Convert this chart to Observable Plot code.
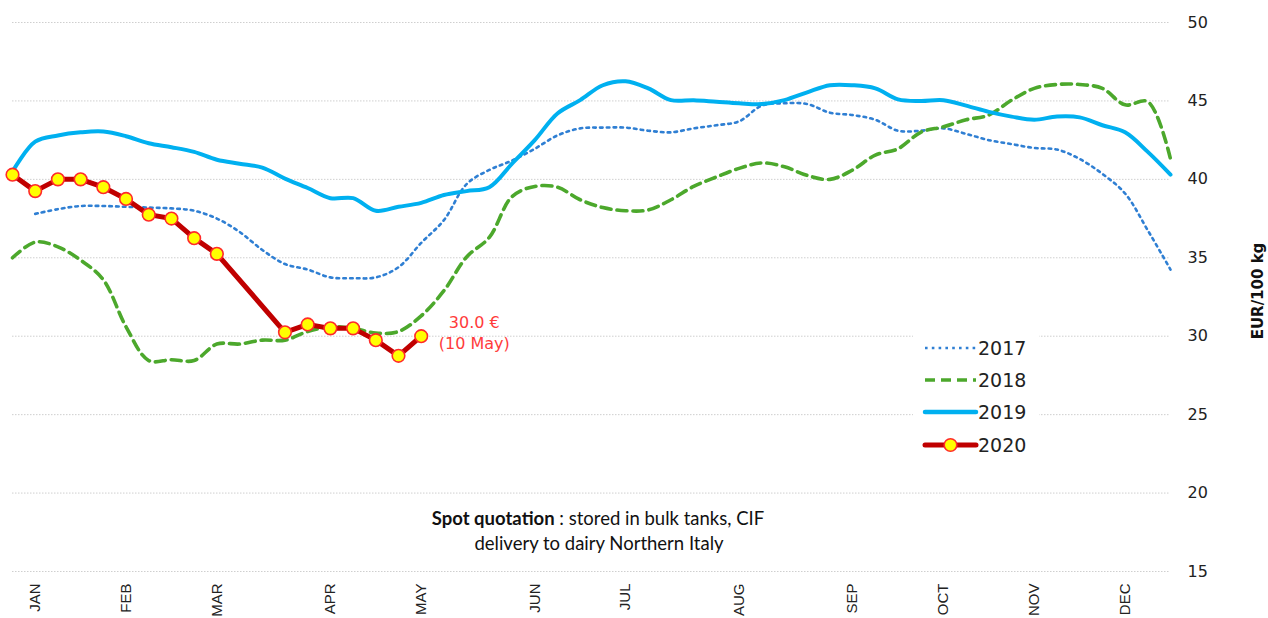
<!DOCTYPE html>
<html><head><meta charset="utf-8">
<script src="https://cdn.jsdelivr.net/npm/d3@7"></script>
<script src="https://cdn.jsdelivr.net/npm/@observablehq/plot@0.6"></script>
<style>
body{margin:0;background:#fff;}
#wrap{position:relative;width:1268px;height:618px;overflow:hidden;}
#overlay{position:absolute;left:0;top:0;pointer-events:none;}
</style></head><body>
<div id="wrap"></div>
<script>
// ---- data (weekly, week index 0..51) ----
const years = ["2017", "2018", "2019", "2020"];
const colors = ["#2f7fd3", "#4ca82c", "#00b0f0", "#c00000"];
const monthNames = ["JAN","FEB","MAR","APR","MAY","JUN","JUL","AUG","SEP","OCT","NOV","DEC"];
const monthWeeks = [1, 5, 9, 14, 18, 23, 27, 32, 37, 41, 45, 49];
const yTicks = [15, 20, 25, 30, 35, 40, 45, 50];

const v2017 = [null, 37.8, 38.1, 38.3, 38.3, 38.25, 38.2, 38.15, 38.0, 37.5, 36.65,
  35.5, 34.6, 34.25, 33.75, 33.7, 33.75, 34.4, 35.95, 37.4, 39.7,
  40.6, 41.2, 41.95, 42.8, 43.25, 43.3, 43.3, 43.1, 43.0, 43.25,
  43.45, 43.7, 44.7, 44.85, 44.8, 44.25, 44.1, 43.8, 43.1, 43.1,
  43.25, 42.9, 42.5, 42.25, 42.0, 41.9, 41.3, 40.35, 39.1, 36.75, 34.25];
const v2018 = [35.0, 36.0, 35.7, 34.85, 33.6, 30.6, 28.45, 28.5, 28.45, 29.5, 29.5,
  29.75, 29.75, 30.3, 30.6, 30.5, 30.2, 30.3, 31.3, 32.9, 35.05,
  36.3, 38.9, 39.55, 39.5, 38.7, 38.2, 38.0, 38.05, 38.7, 39.55,
  40.15, 40.7, 41.05, 40.8, 40.25, 40.0, 40.6, 41.55, 41.95, 43.0,
  43.35, 43.8, 44.1, 45.05, 45.8, 46.05, 46.05, 45.8, 44.75, 44.95, 41.3];
const v2019 = [40.5, 42.4, 42.8, 43.0, 43.05, 42.75, 42.3, 42.05, 41.75, 41.25, 41.0,
  40.75, 40.05, 39.45, 38.8, 38.8, 38.0, 38.25, 38.5, 39.0, 39.25,
  39.5, 41.0, 42.5, 44.2, 45.05, 46.0, 46.25, 45.8, 45.05, 45.05,
  44.95, 44.85, 44.8, 45.05, 45.55, 46.0, 46.0, 45.8, 45.1, 45.0,
  45.05, 44.7, 44.3, 44.0, 43.8, 44.0, 43.95, 43.45, 43.0, 41.75, 40.3];
const weeks2020 = [0, 1, 2, 3, 4, 5, 6, 7, 8, 9, 12, 13, 14, 15, 16, 17, 18];
const v2020 = [40.3, 39.25, 40.0, 40.0, 39.5, 38.75, 37.75, 37.5, 36.25, 35.25,
  30.25, 30.75, 30.5, 30.5, 29.75, 28.75, 30.0];
const noteText = "30.0 €\n(10 May)";
const captionBold = "Spot quotation";
const captionRest1 = " : stored in bulk tanks, CIF";
const captionLine2 = "delivery to dairy Northern Italy";
const yLabel = "EUR/100 kg";

// ---- tables ----
const toRows = (vals, year, wks) => vals.map((v, i) => ({year, week: wks ? wks[i] : i, value: v})).filter(d => d.value != null);
const d2017 = toRows(v2017, "2017");
const d2018 = toRows(v2018, "2018");
const d2019 = toRows(v2019, "2019");
const d2020 = toRows(v2020, "2020", weeks2020);
const last2020 = [d2020[d2020.length - 1]];
const nameByWeek = new Map(monthWeeks.map((w, i) => [w, monthNames[i]]));

const W = 1268, H = 618;
const chart = Plot.plot({
  width: W, height: H,
  marginLeft: 12, marginRight: 98, marginTop: 22, marginBottom: 47,
  x: {domain: [0, 51]},
  y: {domain: [15, 50]},
  style: {background: "#fff"},
  marks: [
    Plot.gridY(yTicks, {stroke: "#cfcfcf", strokeOpacity: 1, strokeDasharray: "1.5,1.5", strokeWidth: 1}),
    Plot.line(d2017, {x: "week", y: "value", stroke: colors[0], strokeWidth: 2.6, strokeDasharray: "2.6,4.2", curve: "catmull-rom"}),
    Plot.line(d2018, {x: "week", y: "value", stroke: colors[1], strokeWidth: 3.6, strokeDasharray: "10,6", curve: "catmull-rom"}),
    Plot.line(d2019, {x: "week", y: "value", stroke: colors[2], strokeWidth: 4, curve: "catmull-rom"}),
    Plot.line(d2020, {x: "week", y: "value", stroke: colors[3], strokeWidth: 5, strokeLinejoin: "round"}),
    Plot.dot(d2020, {x: "week", y: "value", r: 6.3, fill: "#ffff00", stroke: "#ff2a2a", strokeWidth: 1.6}),
    Plot.text(last2020, {x: "week", y: "value", text: () => noteText, dx: 53, dy: -4, lineHeight: 1.3,
      fill: "#ff3b3b", fontSize: 16, fontFamily: "DejaVu Sans", textAnchor: "middle"}),
    Plot.axisX(monthWeeks, {tickFormat: d => nameByWeek.get(d), tickRotate: -90, tickSize: 0, tickPadding: 12,
      fontSize: 15, fontFamily: "Liberation Sans, Arial, sans-serif", fill: "#222", label: null}),
    Plot.axisY(yTicks, {anchor: "right", tickSize: 0, tickPadding: 17, fontSize: 16,
      fontFamily: "DejaVu Sans, Verdana, sans-serif", fill: "#222", label: null})
  ]
});
const wrap = document.getElementById("wrap");
wrap.appendChild(chart);

// ---- overlay: legend, y label, caption ----
const ov = d3.select(wrap).append("svg").attr("id", "overlay").attr("width", W).attr("height", H);
const lg = ov.append("g").attr("transform", "translate(913,326)");
lg.append("rect").attr("width", 126).attr("height", 138).attr("fill", "#fff");
const rowY = [22, 54, 86, 119];
const legStyles = [
  {w: 2.6, dash: "2.6,4.2"},
  {w: 3.6, dash: "10,6"},
  {w: 4.5, dash: null},
  {w: 5, dash: null}
];
years.forEach((yr, i) => {
  const g = lg.append("g").attr("transform", `translate(0,${rowY[i]})`);
  const ln = g.append("line").attr("x1", 12).attr("x2", 63).attr("stroke", colors[i]).attr("stroke-width", legStyles[i].w)
    .attr("stroke-linecap", i >= 2 ? "round" : "butt");
  if (legStyles[i].dash) ln.attr("stroke-dasharray", legStyles[i].dash);
  if (i === 3) g.append("circle").attr("cx", 37.5).attr("r", 6.3).attr("fill", "#ffff00").attr("stroke", "#ff2a2a").attr("stroke-width", 1.6);
  g.append("text").attr("x", 65).attr("dy", "0.35em").attr("font-family", "DejaVu Sans, Verdana, sans-serif")
    .attr("font-size", 19).attr("fill", "#222").text(yr);
});
ov.append("text").attr("transform", "translate(1258,291) rotate(-90)").attr("text-anchor", "middle").attr("dy", "0.35em")
  .attr("font-family", "DejaVu Sans, Verdana, sans-serif").attr("font-weight", "bold").attr("font-size", 15).attr("fill", "#111").text(yLabel);
const cap = ov.append("text").attr("font-family", "Lato, sans-serif").attr("font-size", 18.5).attr("fill", "#111").attr("text-anchor", "middle");
const t1 = cap.append("tspan").attr("x", 598).attr("y", 524.5);
t1.append("tspan").attr("font-weight", "bold").text(captionBold);
t1.append("tspan").text(captionRest1);
cap.append("tspan").attr("x", 599).attr("y", 549.5).text(captionLine2);
</script>
</body></html>
